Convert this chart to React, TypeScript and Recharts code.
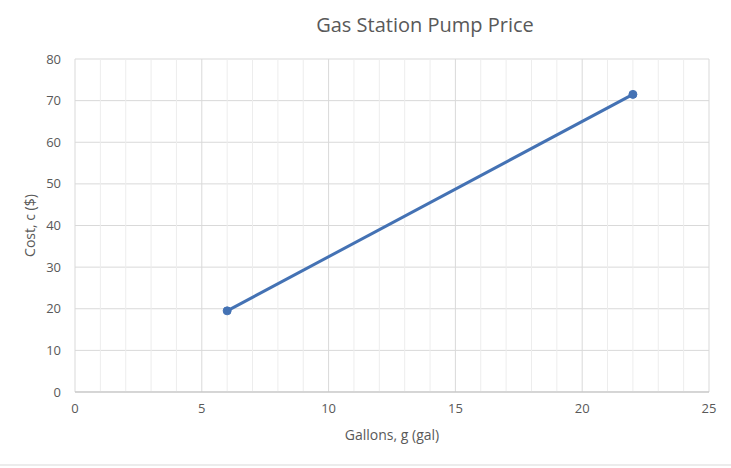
import React from "react";
import {
  LineChart, Line, XAxis, YAxis, CartesianGrid, ReferenceLine,
} from "recharts";

const gallons = [6, 22];
const cost = [19.5, 71.5];
const xTicks = [0, 5, 10, 15, 20, 25];
const yTicks = [0, 10, 20, 30, 40, 50, 60, 70, 80];
const minorX = [1, 2, 3, 4, 6, 7, 8, 9, 11, 12, 13, 14, 16, 17, 18, 19, 21, 22, 23, 24];

const data = gallons.map((g, i) => ({ g, c: cost[i] }));

const FONT = "'Open Sans', 'Noto Sans', sans-serif";
const TEXT = "#595959";

export default function App() {
  return (
    <div style={{ position: "absolute", left: 0, top: 0, width: 731, height: 468, background: "#fff", fontFamily: FONT }}>
      <LineChart width={731} height={468} data={data} margin={{ top: 59, right: 22, bottom: 46, left: 0 }}>
        <CartesianGrid stroke="#d9d9d9" horizontal vertical />
        {minorX.map((x) => (
          <ReferenceLine key={x} x={x} stroke="#ededed" strokeWidth={1} />
        ))}
        <XAxis
          type="number"
          dataKey="g"
          domain={[0, 25]}
          ticks={xTicks}
          tickLine={false}
          tickSize={0}
          tickMargin={12}
          axisLine={{ stroke: "#bfbfbf" }}
          tick={{ fontSize: 13, fill: TEXT, fontFamily: FONT }}
          label={{ value: "Gallons, g (gal)", position: "insideBottom", offset: -18, fontSize: 14, fill: TEXT, fontFamily: FONT }}
        />
        <YAxis
          type="number"
          domain={[0, 80]}
          ticks={yTicks}
          width={75}
          tickLine={false}
          tickSize={0}
          tickMargin={14}
          axisLine={false}
          tick={{ fontSize: 13, fill: TEXT, fontFamily: FONT }}
          label={{ value: "Cost, c ($)", angle: -90, position: "insideLeft", offset: 30, textAnchor: "middle", fontSize: 14, fill: TEXT, fontFamily: FONT }}
        />
        <Line
          type="linear"
          dataKey="c"
          stroke="#4472b4"
          strokeWidth={3}
          dot={{ r: 4, fill: "#4472b4", stroke: "#4472b4", strokeWidth: 1 }}
          isAnimationActive={false}
        />
        <text x={425} y={32} textAnchor="middle" fontSize={20} fill={TEXT} fontFamily={FONT}>
          Gas Station Pump Price
        </text>
        <line x1={0} x2={731} y1={465} y2={465} stroke="#d9d9d9" />
      </LineChart>
    </div>
  );
}
